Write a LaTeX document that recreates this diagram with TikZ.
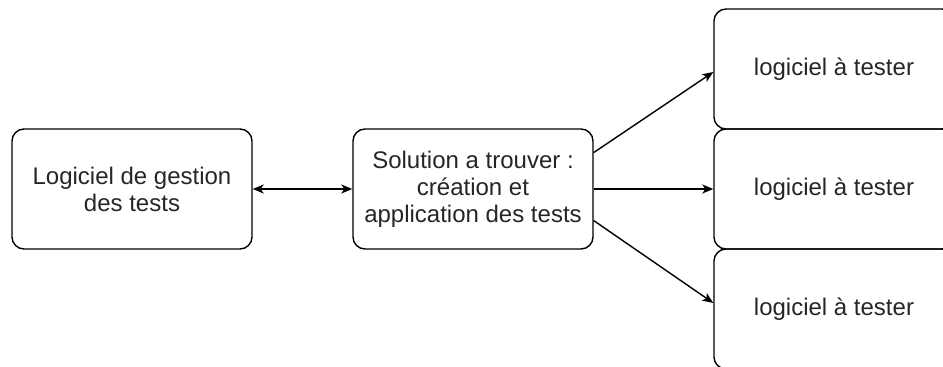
\documentclass[tikz,border=0pt]{standalone}
\usepackage{fontspec}
\setmainfont{Liberation Sans}
\usetikzlibrary{arrows.meta,calc}
\begin{document}
\begin{tikzpicture}[x=1pt,y=-1pt,
  box/.style={draw,line width=1.4pt,rounded corners=12pt,minimum width=240pt,minimum height=120pt,
    inner sep=0pt,align=center,font=\fontsize{24}{27}\selectfont,text=black!85},
  conn/.style={line width=1.4pt,-{Stealth[length=11pt,width=9pt,inset=3pt]}}]
\clip (0,0) rectangle (943,367);
\fill[white] (0,0) rectangle (943,367);
\node[box] (gest) at (132,189) {Logiciel de gestion\\des tests};
\node[box] (sol) at (473,189) {Solution a trouver :\\création et\\application des tests};
\node[box] (t1) at (834,69) {logiciel à tester};
\node[box] (t2) at (834,189) {logiciel à tester};
\node[box] (t3) at (834,309) {logiciel à tester};
\draw[line width=1.4pt,{Stealth[length=11pt,width=9pt,inset=3pt]}-{Stealth[length=11pt,width=9pt,inset=3pt]}] (gest) -- (sol);
\draw[conn] ($(sol.north east)!0.2!(sol.south east)$) -- ($(t1.west)+(0,3)$);
\draw[conn] (sol) -- (t2);
\draw[conn] ($(sol.north east)!0.76!(sol.south east)$) -- ($(t3.west)+(0,-6)$);
\end{tikzpicture}
\end{document}
